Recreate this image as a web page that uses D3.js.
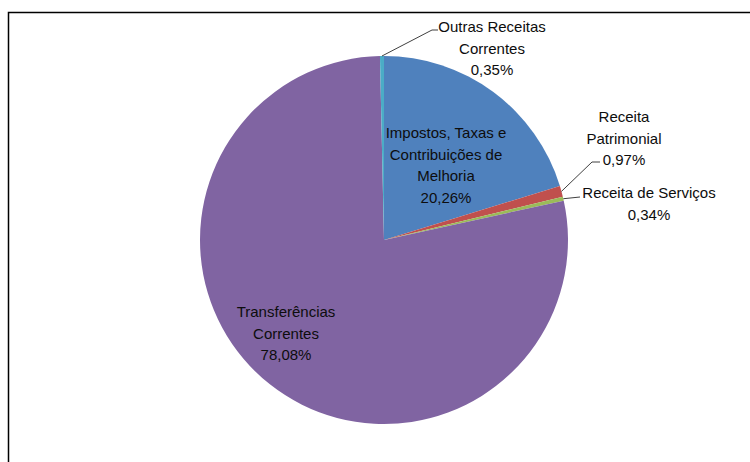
<!DOCTYPE html>
<html>
<head>
<meta charset="utf-8">
<script src="https://cdn.jsdelivr.net/npm/d3@7"></script>
<style>
body { margin: 0; background: #fff; }
text { font-family: "Liberation Sans", Arial, sans-serif; font-size: 15px; fill: #0d0d0d; }
</style>
</head>
<body>
<div id="chart"></div>
<script>
var width = 750, height = 462
var cx = 384, cy = 240, radius = 184

// slices, clockwise from 12 o'clock
var categories = ["Impostos, Taxas e Contribuições de Melhoria", "Receita Patrimonial", "Receita de Serviços", "Transferências Correntes", "Outras Receitas Correntes"]
var values = [20.26, 0.97, 0.34, 78.08, 0.35]
var colors = ["#4F81BD", "#C0504D", "#9BBB59", "#8064A2", "#4BACC6"]
// label lines as drawn in the chart
var labelLines = [
  ["Impostos, Taxas e", "Contribuições de", "Melhoria", "20,26%"],
  ["Receita", "Patrimonial", "0,97%"],
  ["Receita de Serviços", "0,34%"],
  ["Transferências", "Correntes", "78,08%"],
  ["Outras Receitas", "Correntes", "0,35%"]
]

var svg = d3.select("#chart").append("svg")
  .attr("width", width)
  .attr("height", height)

// frame (only top and left edges are inside the picture)
svg.append("path")
  .attr("d", "M8.5,462 V12.5 H750")
  .attr("fill", "none")
  .attr("stroke", "#000")
  .attr("stroke-width", 1.5)

var data = categories.map(function(c, i) { return {name: c, value: values[i], color: colors[i], lines: labelLines[i]} })

var pie = d3.pie().sort(null).value(function(d) { return d.value })
var arcs = pie(data)
var arc = d3.arc().innerRadius(0).outerRadius(radius)

var g = svg.append("g").attr("transform", "translate(" + cx + "," + cy + ")")

g.selectAll("path.slice")
  .data(arcs)
  .enter().append("path")
  .attr("class", "slice")
  .attr("d", arc)
  .attr("fill", function(d) { return d.data.color })

// label placement: text centre (x, first line y) and leader line points
var labelPos = [
  {x: 446, y: 138, lead: null},
  {x: 624, y: 122, lead: [[0.5], [592, 162], [600, 162]]},
  {x: 649, y: 198, lead: [[0.5], [580, 197]]},
  {x: 286, y: 317, lead: null},
  {x: 492, y: 32, lead: [[0.5], [432, 30], [438, 30]]}
]
var lineH = 21.5

arcs.forEach(function(a, i) {
  var p = labelPos[i]
  if (p.lead) {
    var mid = (a.startAngle + a.endAngle) / 2
    var start = [cx + radius * Math.sin(mid), cy - radius * Math.cos(mid)]
    var pts = [start].concat(p.lead.slice(1))
    svg.append("path")
      .attr("d", d3.line()(pts))
      .attr("fill", "none")
      .attr("stroke", "#404040")
      .attr("stroke-width", 1)
  }
  var t = svg.append("text")
    .attr("text-anchor", "middle")
  a.data.lines.forEach(function(l, j) {
    t.append("tspan")
      .attr("x", p.x)
      .attr("y", p.y + j * lineH)
      .text(l)
  })
})
</script>
</body>
</html>
